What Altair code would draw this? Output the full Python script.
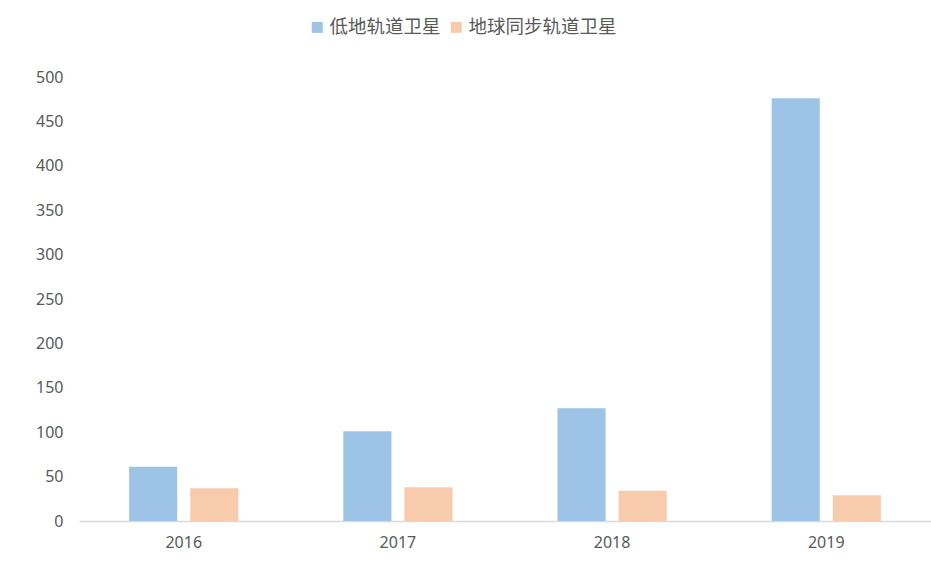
import altair as alt
import pandas as pd

years = ["2016", "2017", "2018", "2019"]
series_names = ["低地轨道卫星", "地球同步轨道卫星"]
leo = [61, 101, 127, 476]
geo = [37, 38, 34, 29]
colors = ["#9DC3E6", "#F8CBAD"]
y_ticks = [0, 50, 100, 150, 200, 250, 300, 350, 400, 450, 500]

rows = []
for i, y in enumerate(years):
    rows.append({"year": y, "series": series_names[0], "value": leo[i]})
    rows.append({"year": y, "series": series_names[1], "value": geo[i]})
df = pd.DataFrame(rows)

FONT = "Noto Sans"
CJK = "Noto Sans CJK SC"

chart = (
    alt.Chart(df)
    .mark_bar()
    .encode(
        x=alt.X(
            "year:N",
            sort=years,
            scale=alt.Scale(paddingInner=0.49, paddingOuter=0.234),
            axis=alt.Axis(
                title=None,
                labelAngle=0,
                labelFont=FONT,
                labelFontSize=16,
                labelColor="#595959",
                labelPadding=13,
                ticks=False,
                domainColor="#D9D9D9",
                domainWidth=1.5,
            ),
        ),
        xOffset=alt.XOffset(
            "series:N",
            sort=series_names,
            scale=alt.Scale(paddingInner=0.213, paddingOuter=0),
        ),
        y=alt.Y(
            "value:Q",
            scale=alt.Scale(domain=[0, 500], nice=False),
            axis=alt.Axis(
                title=None,
                values=y_ticks,
                grid=False,
                domain=False,
                ticks=False,
                labelFont=FONT,
                labelFontSize=16,
                labelColor="#595959",
                labelPadding=16,
            ),
        ),
        color=alt.Color(
            "series:N",
            sort=series_names,
            scale=alt.Scale(domain=series_names, range=colors),
            legend=alt.Legend(
                title=None,
                orient="none",
                direction="horizontal",
                legendX=229,
                legendY=-59,
                symbolType="square",
                symbolSize=121,
                symbolStrokeWidth=0,
                symbolOpacity=1,
                labelFont=CJK,
                labelFontSize=18.5,
                labelColor="#595959",
                labelOffset=3,
                columnPadding=6,
            ),
        ),
    )
    .properties(
        width=852,
        height=444,
        autosize=alt.AutoSizeParams(type="none"),
        padding={"left": 79, "top": 77, "right": 0, "bottom": 56},
        background="white",
    )
    .configure_view(strokeWidth=0, stroke=None)
)

chart.save("out.html", embed_options={"renderer": "svg", "actions": False})
